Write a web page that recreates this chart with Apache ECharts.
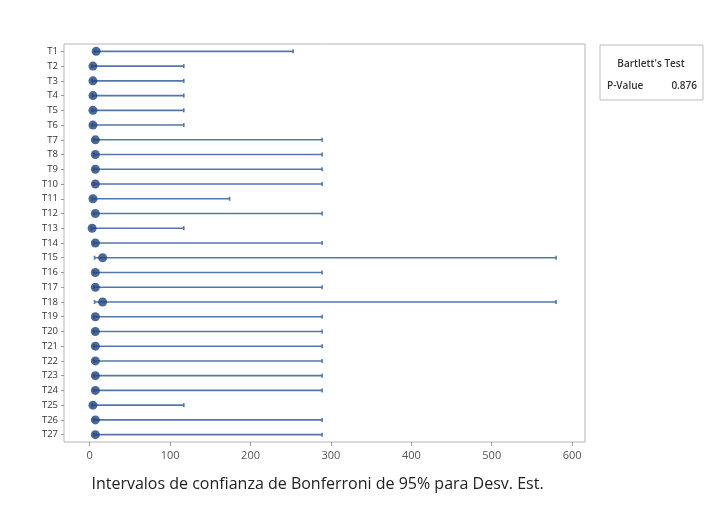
<!DOCTYPE html>
<html>
<head>
<meta charset="utf-8">
<script src="https://cdn.jsdelivr.net/npm/echarts@6/dist/echarts.min.js"></script>
<style>
html,body{margin:0;padding:0;background:#fff;}
#chart{width:715px;height:508px;}
</style>
</head>
<body>
<div id="chart"></div>
<script>
// Groups (top to bottom)
const categories = ['T1','T2','T3','T4','T5','T6','T7','T8','T9','T10','T11','T12','T13','T14','T15','T16','T17','T18','T19','T20','T21','T22','T23','T24','T25','T26','T27'];
// Point estimate of the standard deviation
const stdev = [8,4,4,4,4,4,7,7,7,7,4,7,3,7,16,7,7,16,7,7,7,7,7,7,4,7,7];
// Bonferroni 95% interval bounds
const lower = [6,3,3,3,3,3,5,5,5,5,3,5,2,5,6,5,5,6,5,5,5,5,5,5,3,5,5];
const upper = [253,117,117,117,117,117,289,289,289,289,174,289,117,289,580,289,289,580,289,289,289,289,289,289,117,289,289];
const xTicks = [0,100,200,300,400,500,600];
const pValue = '0.876';

const chart = echarts.init(document.getElementById('chart'), null, {renderer:'canvas'});
const FONT = '"Open Sans", "Noto Sans", sans-serif';

const intervalData = categories.map((c,i)=>[lower[i], upper[i], i]);
const pointData = categories.map((c,i)=>[stdev[i], i]);

chart.setOption({
  animation:false,
  backgroundColor:'#fff',
  grid:{left:64, right:130, top:44, bottom:66, show:true, borderColor:'#b5b5b5', borderWidth:1, backgroundColor:'#fff'},
  xAxis:{
    type:'value', min:-32, max:616,
    name:'Intervalos de confianza de Bonferroni de 95% para Desv. Est.',
    nameLocation:'middle', nameGap:34,
    nameTextStyle:{fontFamily:FONT, fontSize:16, color:'#222', padding:[0,14,0,0]},
    axisLine:{show:false, onZero:false},
    splitLine:{show:false},
    axisTick:{show:true, customValues:xTicks, length:4, lineStyle:{color:'#999'}},
    axisLabel:{customValues:xTicks, fontFamily:FONT, fontSize:11, color:'#555', margin:8}
  },
  yAxis:{
    type:'category', data:categories, inverse:true,
    axisLine:{show:false, onZero:false},
    axisTick:{show:true, alignWithLabel:true, length:3, lineStyle:{color:'#999'}},
    axisLabel:{fontFamily:FONT, fontSize:9.5, color:'#333', margin:6, interval:0},
    splitLine:{show:false}
  },
  graphic:[
    {type:'rect', shape:{x:600, y:45, width:103, height:55}, style:{fill:'#fff', stroke:'#bdbdbd', lineWidth:1}},
    {type:'text', x:651, y:64, style:{text:"Bartlett's Test", font:'600 10px '+FONT, fill:'#333', textAlign:'center', textVerticalAlign:'middle'}},
    {type:'text', x:607, y:86, style:{text:'P-Value', font:'600 10px '+FONT, fill:'#333', textAlign:'left', textVerticalAlign:'middle'}},
    {type:'text', x:697, y:86, style:{text:pValue, font:'600 10px '+FONT, fill:'#333', textAlign:'right', textVerticalAlign:'middle'}}
  ],
  series:[
    {
      type:'custom',
      data:intervalData,
      encode:{x:[0,1], y:2},
      renderItem:function(params, api){
        const a = api.coord([api.value(0), api.value(2)]);
        const b = api.coord([api.value(1), api.value(2)]);
        const h = 2;
        const st = {stroke:'#5577a8', lineWidth:1.6};
        return {type:'group', children:[
          {type:'line', shape:{x1:a[0], y1:a[1], x2:b[0], y2:b[1]}, style:st},
          {type:'line', shape:{x1:a[0], y1:a[1]-h, x2:a[0], y2:a[1]+h}, style:st},
          {type:'line', shape:{x1:b[0], y1:b[1]-h, x2:b[0], y2:b[1]+h}, style:st}
        ]};
      },
      z:2
    },
    {
      type:'scatter',
      data:pointData,
      symbol:'circle', symbolSize:9,
      itemStyle:{color:'#1b437e'},
      z:3
    }
  ]
});
</script>
</body>
</html>
